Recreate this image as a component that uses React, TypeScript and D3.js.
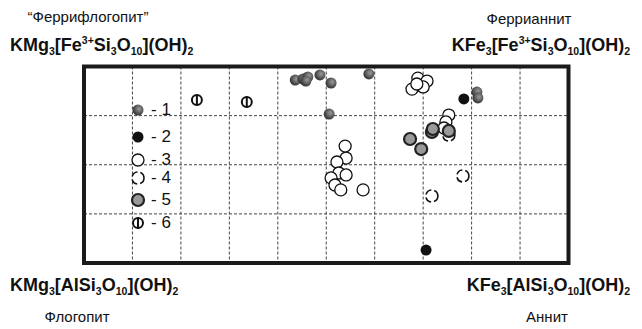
import React from 'react';
import * as d3 from 'd3';

// x: Fe/(Fe+Mg), y: Fe3+ share (0..1)
const s1 = [
  [0.436, 0.931], [0.452, 0.936], [0.462, 0.947], [0.458, 0.926], [0.487, 0.957],
  [0.51, 0.916], [0.588, 0.962], [0.506, 0.758], [0.811, 0.87], [0.813, 0.84],
];
const s2 = [[0.784, 0.835], [0.706, 0.066]];
const s3 = [
  [0.689, 0.941], [0.708, 0.926], [0.677, 0.885], [0.7, 0.896], [0.687, 0.911],
  [0.753, 0.753], [0.747, 0.718], [0.743, 0.687],
  [0.539, 0.595], [0.541, 0.534], [0.522, 0.514], [0.526, 0.458], [0.541, 0.448],
  [0.51, 0.433], [0.518, 0.397], [0.53, 0.372], [0.576, 0.372],
];
const s4 = [[0.782, 0.443], [0.718, 0.341], [0.753, 0.651]];
const s5 = [[0.673, 0.631], [0.696, 0.58], [0.718, 0.667], [0.72, 0.682], [0.753, 0.672]];
const s6 = [[0.233, 0.83], [0.336, 0.819]];

const legendLabels = ['- 1', '- 2', '- 3', '- 4', '- 5', '- 6'];
const xTicks = d3.range(1, 10).map((d) => d / 10);
const yTicks = [0.25, 0.5, 0.75];

// formula parts: [text, 'n' | 'sub' | 'sup']
const topLeftFormula = [['KMg', 'n'], ['3', 'sub'], ['[Fe', 'n'], ['3+', 'sup'], ['Si', 'n'], ['3', 'sub'], ['O', 'n'], ['10', 'sub'], ['](OH)', 'n'], ['2', 'sub']];
const topRightFormula = [['KFe', 'n'], ['3', 'sub'], ['[Fe', 'n'], ['3+', 'sup'], ['Si', 'n'], ['3', 'sub'], ['O', 'n'], ['10', 'sub'], ['](OH)', 'n'], ['2', 'sub']];
const bottomLeftFormula = [['KMg', 'n'], ['3', 'sub'], ['[AlSi', 'n'], ['3', 'sub'], ['O', 'n'], ['10', 'sub'], ['](OH)', 'n'], ['2', 'sub']];
const bottomRightFormula = [['KFe', 'n'], ['3', 'sub'], ['[AlSi', 'n'], ['3', 'sub'], ['O', 'n'], ['10', 'sub'], ['](OH)', 'n'], ['2', 'sub']];

const FONT = '"Liberation Sans", Arial, sans-serif';

const Formula = ({ parts, x, y, anchor }) => {
  let cur = 0;
  return (
    <text x={x} y={y} textAnchor={anchor} fontFamily={FONT} fontWeight="bold" fontSize={18} fill="#111">
      {parts.map(([t, k], i) => {
        const target = k === 'sub' ? 4 : k === 'sup' ? -7 : 0;
        const dy = target - cur;
        cur = target;
        return (
          <tspan key={i} dy={dy} fontSize={k === 'n' ? 18 : 10.5}>
            {t}
          </tspan>
        );
      })}
    </text>
  );
};

const Marker = ({ kind, cx, cy }) => {
  if (kind === 1) return <circle cx={cx} cy={cy} r={5.5} fill="url(#sphere)" />;
  if (kind === 2) return <circle cx={cx} cy={cy} r={5.5} fill="#111" />;
  if (kind === 3) return <circle cx={cx} cy={cy} r={6} fill="#fff" stroke="#111" strokeWidth={1.3} />;
  if (kind === 4)
    return <circle cx={cx} cy={cy} r={6} fill="#fff" stroke="#111" strokeWidth={1.6} strokeDasharray="7 3" />;
  if (kind === 5) return <circle cx={cx} cy={cy} r={6} fill="#999" stroke="#222" strokeWidth={2.2} />;
  return (
    <g>
      <circle cx={cx} cy={cy} r={5} fill="#fff" stroke="#111" strokeWidth={2} />
      <line x1={cx} x2={cx} y1={cy - 5.5} y2={cy + 5.5} stroke="#111" strokeWidth={2} />
    </g>
  );
};

export default function App() {
  const width = 642;
  const height = 329;
  const left = 84;
  const right = 568.5;
  const top = 66.5;
  const bottom = 263;

  const x = d3.scaleLinear().domain([0, 1]).range([left, right]);
  const y = d3.scaleLinear().domain([0, 1]).range([bottom, top]);

  const series = [
    { kind: 3, data: s3 },
    { kind: 4, data: s4 },
    { kind: 5, data: s5 },
    { kind: 1, data: s1 },
    { kind: 2, data: s2 },
    { kind: 6, data: s6 },
  ];

  const legendY = [110, 137, 160, 178, 200, 223];

  return (
    <svg width={width} height={height} style={{ position: 'absolute', left: 0, top: 0, background: '#fff' }}>
      <defs>
        <radialGradient id="sphere" cx="60%" cy="40%" r="60%">
          <stop offset="0%" stopColor="#9a9a9a" />
          <stop offset="100%" stopColor="#333" />
        </radialGradient>
      </defs>

      {/* grid */}
      {xTicks.map((t) => (
        <line key={'gx' + t} x1={x(t)} x2={x(t)} y1={top} y2={bottom} stroke="#444" strokeWidth={1} strokeDasharray="3 2" />
      ))}
      {yTicks.map((t) => (
        <line key={'gy' + t} x1={left} x2={right} y1={y(t)} y2={y(t)} stroke="#444" strokeWidth={1} strokeDasharray="3 2" />
      ))}

      {/* points */}
      {series.map((s) =>
        s.data.map((d, i) => <Marker key={s.kind + '-' + i} kind={s.kind} cx={x(d[0])} cy={y(d[1])} />)
      )}

      {/* legend */}
      {legendLabels.map((lab, i) => (
        <g key={lab}>
          <Marker kind={i + 1} cx={138} cy={legendY[i]} />
          <text x={151} y={legendY[i] + 5} fontFamily={FONT} fontSize={17} fill="#111">
            {lab}
          </text>
        </g>
      ))}

      {/* frame */}
      <rect x={left} y={top} width={right - left} height={bottom - top} fill="none" stroke="#1a1a1a" strokeWidth={4} />

      {/* labels */}
      <text x={88} y={22} textAnchor="middle" fontFamily={FONT} fontSize={15} fill="#111">
        “Феррифлогопит”
      </text>
      <text x={529} y={24} textAnchor="middle" fontFamily={FONT} fontSize={15} fill="#111">
        Феррианнит
      </text>
      <Formula parts={topLeftFormula} x={10} y={51} anchor="start" />
      <Formula parts={topRightFormula} x={630} y={51} anchor="end" />
      <Formula parts={bottomLeftFormula} x={10} y={291} anchor="start" />
      <Formula parts={bottomRightFormula} x={630} y={291} anchor="end" />
      <text x={77} y={322} textAnchor="middle" fontFamily={FONT} fontSize={15} fill="#111">
        Флогопит
      </text>
      <text x={547} y={322} textAnchor="middle" fontFamily={FONT} fontSize={15} fill="#111">
        Аннит
      </text>
    </svg>
  );
}
